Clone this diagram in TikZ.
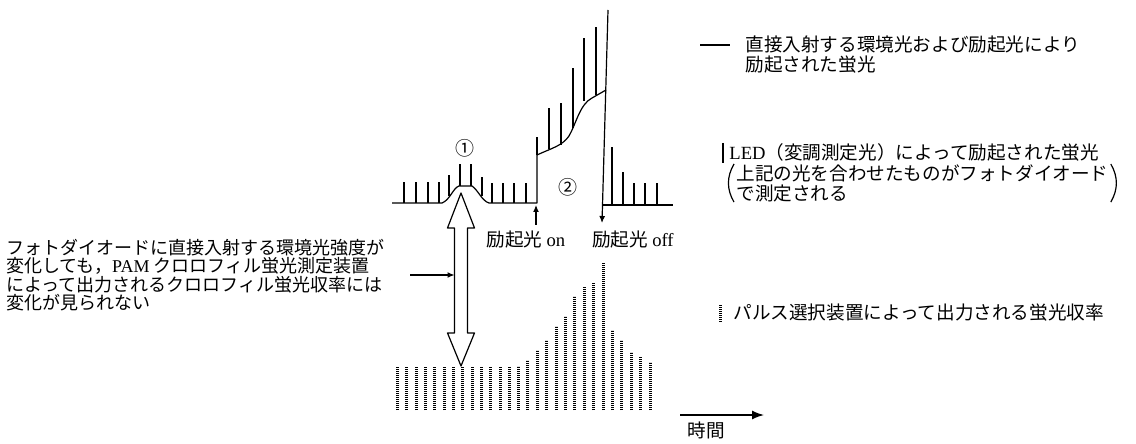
\documentclass[tikz,border=0pt]{standalone}
\usepackage{fontspec}
\setmainfont{Noto Sans CJK JP}
\newfontfamily\latin{Liberation Serif}
\usetikzlibrary{arrows.meta}

\begin{document}
\begin{tikzpicture}[
  x=0.5pt, y=-0.5pt,
  font={\fontsize{9.3}{10}\selectfont\lineskiplimit=-20pt},
  trace/.style={line width=0.6pt, line join=round},
  pulse/.style={line width=0.6pt},
  yieldbar/.style={line width=1.5pt, dash pattern=on 0.6pt off 0.4pt},
  arr/.style={line width=0.6pt, -{Latex[length=3.5pt,width=3pt]}},
  lbl/.style={inner sep=0pt, align=left},
  num/.style={inner sep=0pt, font=\fontsize{9.5}{9.5}\selectfont}
]
\fill[white] (0,0) rectangle (1136,444);

% fluorescence trace
\draw[trace] (392,203) -- (442,203) .. controls (450,200) and (453,188) .. (459,186)
  -- (472,186) .. controls (478,190) and (482,201) .. (489,203) -- (537,203) -- (537,155)
  .. controls (552,148) and (562,146) .. (569,136)
  .. controls (576,124) and (580,104) .. (592,98) -- (606,90);
\draw[trace] (603,205) -- (673,205);

% measuring pulses
\foreach \x/\b/\t in {404/203/182, 416/203/182, 428/203/182, 439/203/182,
    449/196/175, 460/186/164, 471/186/164, 482/196/177,
    492/203/183, 503/203/183, 514/203/183, 526/203/183,
    537/155/137, 549/149/108, 561/145/103, 573/128/68, 584/101/38, 596/95/27,
    612/205/147, 623/205/172, 634/205/183, 645/205/183, 657/205/183}
  \draw[pulse] (\x,\b) -- (\x,\t);

\node[num] (n1) at (465,148) {①};
\node[num] (n2) at (568,187) {②};

% actinic light on / off
\node[lbl] (on)  at (526,240) {励起光 {\latin on}};
\node[lbl] (off) at (633,240) {励起光 {\latin off}};
\coordinate (onpt) at (536,205);
\coordinate (offtop) at (608,10);
\coordinate (offend) at (602,223);
\draw[arr] ([yshift=3pt]on.north -| onpt) -- (onpt);
\draw[arr] (offtop) -- (offend);

% hollow double arrow
\draw[trace, fill=white] (461,193) -- (474.5,228) -- (467.5,228) -- (467.5,333)
  -- (474.5,333) -- (461,366) -- (447.5,333) -- (454.5,333) -- (454.5,228)
  -- (447.5,228) -- cycle;
\coordinate (shaftL) at (454.5,275);

\node[lbl, anchor=north west, font={\fontsize{9}{9.1}\selectfont\lineskiplimit=-20pt}] (note) at (6,239)
  {フォトダイオードに直接入射する環境光強度が\\
   変化しても，{\latin PAM} クロロフィル蛍光測定装置\\
   によって出力されるクロロフィル蛍光収率には\\
   変化が見られない};
\coordinate (noteptr) at (410,275);
\draw[arr] (noteptr) -- (shaftL);

% fluorescence yield output by pulse selector
\foreach \x/\t in {397/367, 406/367, 416/367, 425/367, 434/367, 444/367, 453/367,
    462/367, 472/367, 481/367, 490/367, 500/367, 509/367, 518/366, 527/360,
    537/350, 546/340, 556/326, 565/316, 574/296, 584/287, 593/283, 603/263,
    612/330, 621/340, 631/352, 640/357, 650/362}
  \draw[yieldbar] (\x,410) -- (\x,\t);

% legend
\draw[trace] (700,45) -- (730,45);
\node[lbl, anchor=west] (key1) at (745,55) {直接入射する環境光および励起光により\\励起された蛍光};

\draw[line width=1pt] (723,143) -- (723,163);
\node[lbl, anchor=west] (led) at (729,152) {{\latin LED}（変調測定光）によって励起された蛍光};
\node[lbl, anchor=north west] (ledsub) at (736,164) {上記の光を合わせたものがフォトダイオード\\で測定される};
\draw[trace] ([xshift=-1pt]ledsub.north west) to[bend right=30] ([xshift=-1pt]ledsub.south west);
\draw[trace] ([xshift=1pt]ledsub.north east) to[bend left=30] ([xshift=1pt]ledsub.south east);

\draw[yieldbar] (720,305) -- (720,322);
\node[lbl, anchor=west] (pam) at (733,313) {パルス選択装置によって出力される蛍光収率};

% time axis
\coordinate (t0) at (680,415);
\coordinate (t1) at (764,415);
\draw[line width=0.7pt, -{Latex[length=6pt,width=4.5pt]}] (t0) -- (t1);
\node[lbl] (time) at (706,430) {時間};
\end{tikzpicture}
\end{document}
